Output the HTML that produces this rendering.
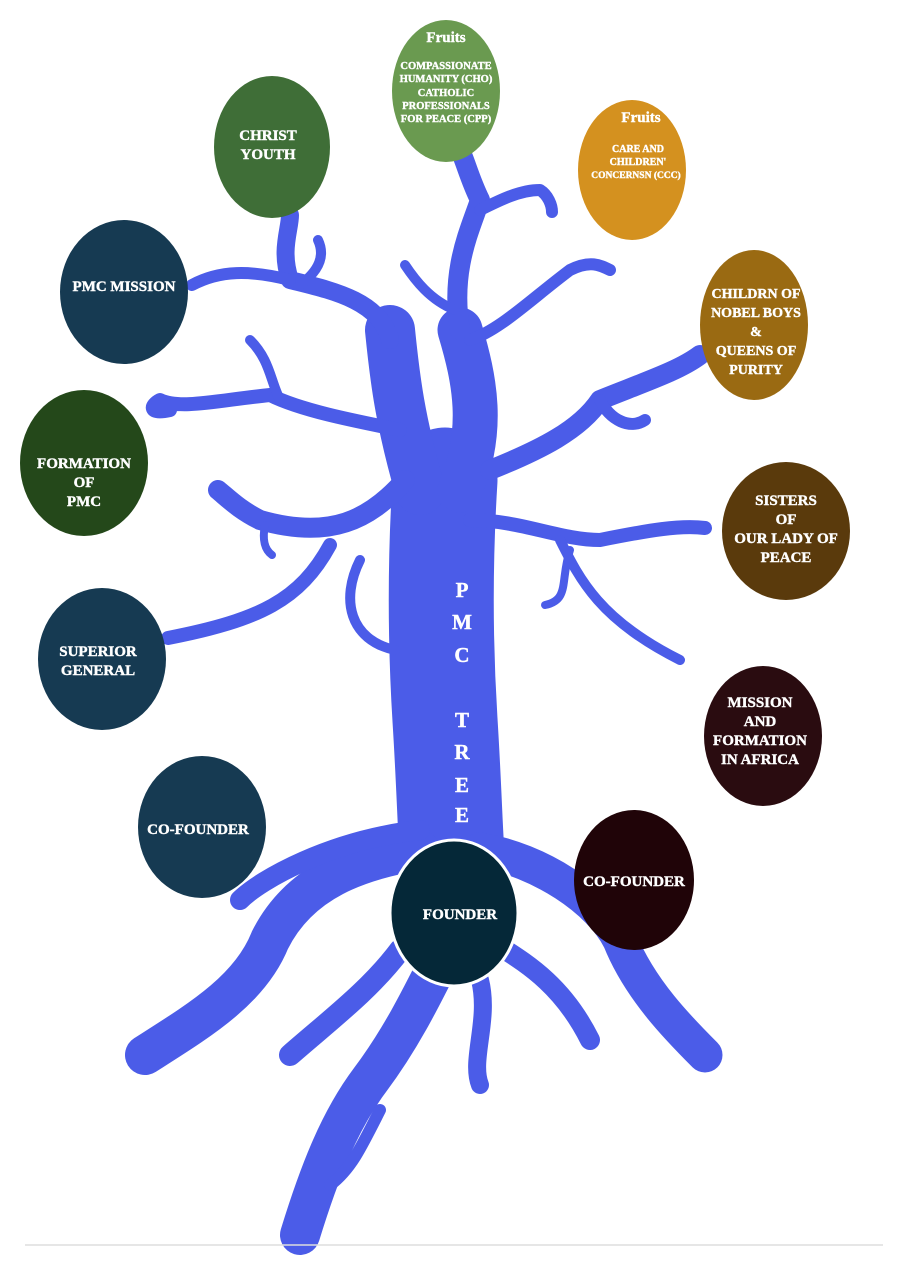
<!DOCTYPE html>
<html><head><meta charset="utf-8"><style>
html,body{margin:0;padding:0;background:#fff;}
svg{display:block}
text{font-family:"Liberation Serif",serif;font-weight:bold;fill:#fff;text-anchor:middle;stroke:#fff;stroke-width:0.4}
</style></head><body>
<svg width="904" height="1280" viewBox="0 0 904 1280">
<g fill="none" stroke="#4b5ce8" stroke-linecap="round" stroke-linejoin="round">
<path d="M445 480 C440 560 440 640 445 720 C450 800 450 840 455 900" stroke-width="105"/>
<path d="M420 490 C400 420 395 380 390 330" stroke-width="50"/>
<path d="M460 490 C485 430 475 380 460 330" stroke-width="45"/>
<path d="M390 340 C380 300 330 290 290 280 C280 250 290 230 290 215" stroke-width="18"/>
<path d="M300 285 C320 270 325 255 318 240" stroke-width="10"/>
<path d="M290 280 C250 270 220 270 192 285" stroke-width="12"/>
<path d="M460 330 C450 270 470 230 480 200 C470 180 465 160 460 150" stroke-width="20"/>
<path d="M480 210 C500 200 520 190 540 190 C548 195 552 205 552 212" stroke-width="12"/>
<path d="M455 310 C430 300 415 280 405 265" stroke-width="10"/>
<path d="M470 340 C500 330 530 300 570 270 C590 260 600 265 610 270" stroke-width="12"/>
<path d="M490 470 C540 450 580 430 600 400 C650 380 680 370 700 355" stroke-width="20"/>
<path d="M600 400 C610 420 630 430 645 420" stroke-width="12"/>
<path d="M400 430 C350 420 300 410 270 395 C220 400 180 410 160 400 C150 405 148 415 170 410" stroke-width="14"/>
<path d="M280 400 C270 380 270 360 250 340" stroke-width="10"/>
<path d="M405 480 C370 520 330 540 260 520 C240 510 230 500 218 490" stroke-width="20"/>
<path d="M330 545 C300 600 260 620 168 638" stroke-width="14"/>
<path d="M360 560 C340 600 350 640 395 650" stroke-width="10"/>
<path d="M265 525 C262 540 265 550 272 555" stroke-width="8"/>
<path d="M470 520 C520 520 560 540 600 540 C650 530 680 525 705 528" stroke-width="14"/>
<path d="M560 540 C580 580 600 620 680 660" stroke-width="10"/>
<path d="M570 550 C560 580 570 600 545 605" stroke-width="8"/>
<path d="M420 850 C360 860 300 880 270 940 C250 990 200 1020 145 1055" stroke-width="40"/>
<path d="M420 830 C330 840 260 880 240 900" stroke-width="20"/>
<path d="M480 850 C540 860 600 900 620 940 C640 990 680 1030 705 1055" stroke-width="35"/>
<path d="M490 940 C520 960 560 980 590 1040" stroke-width="20"/>
<path d="M440 960 C420 1000 400 1040 370 1080 C340 1120 320 1170 300 1235" stroke-width="40"/>
<path d="M400 950 C370 990 330 1020 290 1055" stroke-width="22"/>
<path d="M480 980 C490 1020 470 1060 480 1085" stroke-width="18"/>
<path d="M380 1110 C360 1150 350 1170 330 1185" stroke-width="12"/>
</g>
<g>
<ellipse cx="446" cy="91" rx="54" ry="71" fill="#6a9a50"/>
<ellipse cx="632" cy="170" rx="54" ry="70" fill="#d4911f"/>
<ellipse cx="272" cy="147" rx="58" ry="71" fill="#3f6e37"/>
<ellipse cx="124" cy="292" rx="64" ry="72" fill="#163a52"/>
<ellipse cx="754" cy="325" rx="54" ry="75" fill="#9a6a12"/>
<ellipse cx="84" cy="463" rx="64" ry="73" fill="#24481a"/>
<ellipse cx="786" cy="531" rx="64" ry="69" fill="#5a3a0c"/>
<ellipse cx="102" cy="659" rx="64" ry="71" fill="#163a52"/>
<ellipse cx="763" cy="736" rx="59" ry="70" fill="#2a0c10"/>
<ellipse cx="202" cy="827" rx="64" ry="71" fill="#163a52"/>
<ellipse cx="634" cy="880" rx="60" ry="70" fill="#200408"/>
<ellipse cx="454" cy="913" rx="64" ry="73" fill="#052838" stroke="#fff" stroke-width="3"/>
</g>
<text x="446" y="42" font-size="15">Fruits</text>
<text x="446" y="69" font-size="10.5">COMPASSIONATE</text>
<text x="446" y="82" font-size="10.5">HUMANITY (CHO)</text>
<text x="446" y="96" font-size="10.5">CATHOLIC</text>
<text x="446" y="109" font-size="10.5">PROFESSIONALS</text>
<text x="446" y="122" font-size="10.5">FOR PEACE (CPP)</text>
<text x="641" y="122" font-size="15">Fruits</text>
<text x="638" y="152" font-size="10">CARE AND</text>
<text x="638" y="165" font-size="10">CHILDREN'</text>
<text x="636" y="178" font-size="9.5">CONCERNSN (CCC)</text>
<text x="268" y="140" font-size="15">CHRIST</text>
<text x="268" y="159" font-size="15">YOUTH</text>
<text x="124" y="291" font-size="15">PMC MISSION</text>
<text x="756" y="298" font-size="14">CHILDRN OF</text>
<text x="756" y="317" font-size="14">NOBEL BOYS</text>
<text x="756" y="336" font-size="14">&amp;</text>
<text x="756" y="355" font-size="14">QUEENS OF</text>
<text x="756" y="374" font-size="14">PURITY</text>
<text x="84" y="468" font-size="15">FORMATION</text>
<text x="84" y="487" font-size="15">OF</text>
<text x="84" y="506" font-size="15">PMC</text>
<text x="786" y="505" font-size="15">SISTERS</text>
<text x="786" y="524" font-size="15">OF</text>
<text x="786" y="543" font-size="15">OUR LADY OF</text>
<text x="786" y="562" font-size="15">PEACE</text>
<text x="98" y="656" font-size="15">SUPERIOR</text>
<text x="98" y="675" font-size="15">GENERAL</text>
<text x="760" y="707" font-size="15">MISSION</text>
<text x="760" y="726" font-size="15">AND</text>
<text x="760" y="745" font-size="15">FORMATION</text>
<text x="760" y="764" font-size="15">IN AFRICA</text>
<text x="198" y="834" font-size="15">CO-FOUNDER</text>
<text x="634" y="886" font-size="15">CO-FOUNDER</text>
<text x="460" y="919" font-size="15">FOUNDER</text>
<g font-size="21">
<text x="462" y="597">P</text>
<text x="462" y="629">M</text>
<text x="462" y="662">C</text>
<text x="462" y="727">T</text>
<text x="462" y="759">R</text>
<text x="462" y="792">E</text>
<text x="462" y="822">E</text>
</g>
<line x1="25" y1="1245" x2="883" y2="1245" stroke="#ddd" stroke-width="1.5"/>
</svg>
</body></html>
